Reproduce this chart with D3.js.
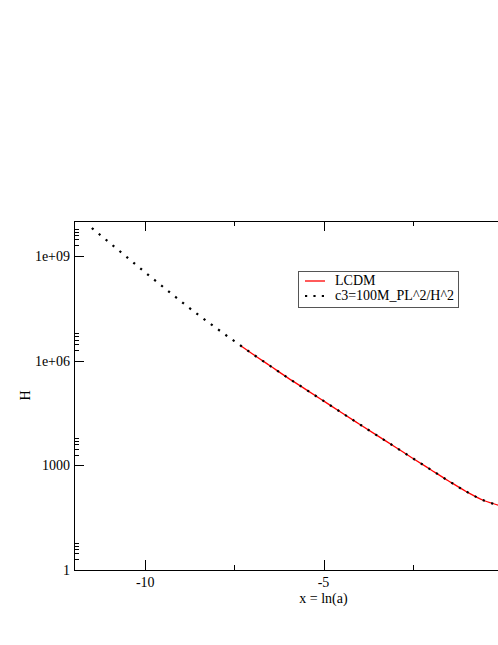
<!DOCTYPE html>
<html>
<head>
<meta charset="utf-8">
<script src="https://cdn.jsdelivr.net/npm/d3@7/dist/d3.min.js"></script>
<style>
    body { margin: 0; background: #fff; }
    svg { display: block; }
    text { font-family: 'Liberation Serif', 'Times New Roman', serif; font-size: 14px; fill: #000; }
</style>
</head>
<body>
<div id="chart"></div>
<script>

// series: x = ln(a), H
const c3X  = [-11.5, -11, -10.5, -10, -9.5, -9, -8.5, -8, -7.5, -7, -6.5, -6,
              -5.5, -5, -4.5, -4, -3.5, -3, -2.5, -2, -1.5, -1, -0.5, 0];
const c3H  = [6.3e9, 2.37e9, 8.9e8, 3.35e8, 1.29e8, 5.0e7, 2.0e7, 8.4e6, 3.6e6, 1.57e6,
              7.1e5, 3.2e5, 1.5e5, 7.0e4, 3.26e4, 1.53e4, 7.2e3, 3.4e3, 1.6e3, 760,
              362, 178, 98, 68];

const lcdmX = [-7.34, -7, -6.5, -6, -5.5, -5, -4.5, -4, -3.5, -3, -2.5, -2,
               -1.5, -1, -0.5, 0];
const lcdmH = [2.74e6, 1.57e6, 7.1e5, 3.2e5, 1.5e5, 7.0e4, 3.26e4, 1.53e4, 7.2e3,
               3.4e3, 1.6e3, 760, 362, 178, 98, 68];

// ticks (the 0 label falls just outside the window in the original)
const xMajor  = [-10, -5, 0];
const xLabels = [-10, -5];
const xMinor  = [-7.5, -2.5];
const yMajor  = [1, 1e3, 1e6, 1e9];
const yLabels = ['1', '1000', '1e+06', '1e+09'];
const yMinorFactors = [2, 3, 4, 5, 6];

const legendNames = ['LCDM', 'c3=100M_PL^2/H^2'];


const width  = 498,
      height = 645;

// plot frame (right edge runs past the window, as in the original)
const plotL = 74, plotR = 573, plotT = 221, plotB = 570;

const x = d3.scaleLinear().domain([-12, 2]).range([plotL, plotR]);
const y = d3.scaleLog().domain([1, 1e10]).range([plotB, plotT]);

const svg = d3.select('#chart')
    .append('svg')
      .attr('width',  width)
      .attr('height', height);

const line = d3.line()
    .x(d => x(d[0]))
    .y(d => y(d[1]))
    .curve(d3.curveMonotoneX);

// red LCDM line
svg.append('path')
    .datum(lcdmX.map((d, i) => [d, lcdmH[i]]))
    .attr('d', line)
    .attr('fill', 'none')
    .attr('stroke', '#ff0000')
    .attr('stroke-width', 1.3);

// black dotted c3 line
svg.append('path')
    .datum(c3X.map((d, i) => [d, c3H[i]]))
    .attr('d', line)
    .attr('fill', 'none')
    .attr('stroke', '#000')
    .attr('stroke-width', 2.2)
    .attr('stroke-dasharray', '2.2 6.8');

// frame
svg.append('rect')
    .attr('x', plotL + 0.5)
    .attr('y', plotT + 0.5)
    .attr('width',  plotR - plotL)
    .attr('height', plotB - plotT)
    .attr('fill', 'none')
    .attr('stroke', '#000')
    .attr('stroke-width', 1);

// x ticks, inward on bottom and top
const xt = svg.append('g').attr('stroke', '#000').attr('stroke-width', 1);
xMajor.forEach(v => {
    const px = Math.round(x(v)) + 0.5;
    xt.append('line').attr('x1', px).attr('x2', px).attr('y1', plotB).attr('y2', plotB - 10);
    xt.append('line').attr('x1', px).attr('x2', px).attr('y1', plotT).attr('y2', plotT + 10);
});
xMinor.forEach(v => {
    const px = Math.round(x(v)) + 0.5;
    xt.append('line').attr('x1', px).attr('x2', px).attr('y1', plotB).attr('y2', plotB - 5);
    xt.append('line').attr('x1', px).attr('x2', px).attr('y1', plotT).attr('y2', plotT + 5);
});

svg.selectAll('.xlabel')
    .data(xLabels)
    .enter()
    .append('text')
      .attr('class', 'xlabel')
      .attr('x', d => x(d))
      .attr('y', plotB + 17)
      .attr('text-anchor', 'middle')
      .text(d => d);

// y ticks
const yt = svg.append('g').attr('stroke', '#000').attr('stroke-width', 1);
yMajor.forEach(v => {
    const py = Math.round(y(v)) + 0.5;
    yt.append('line').attr('x1', plotL).attr('x2', plotL + 10).attr('y1', py).attr('y2', py);
    yMinorFactors.forEach(f => {
        const pm = Math.round(y(v * f)) + 0.5;
        yt.append('line').attr('x1', plotL).attr('x2', plotL + 5).attr('y1', pm).attr('y2', pm);
    });
});

svg.selectAll('.ylabel')
    .data(yMajor)
    .enter()
    .append('text')
      .attr('class', 'ylabel')
      .attr('x', plotL - 4)
      .attr('y', d => y(d) + 5)
      .attr('text-anchor', 'end')
      .text((d, i) => yLabels[i]);

// axis titles
svg.append('text')
    .attr('x', (plotL + plotR) / 2)
    .attr('y', plotB + 33)
    .attr('text-anchor', 'middle')
    .text('x = ln(a)');

svg.append('text')
    .attr('transform', `translate(30, ${(plotT + plotB) / 2}) rotate(-90)`)
    .attr('text-anchor', 'middle')
    .text('H');

// legend
const legend = svg.append('g')
    .attr('transform', 'translate(298, 271)');

legend.append('rect')
    .attr('x', 0.5)
    .attr('y', 0.5)
    .attr('width', 160)
    .attr('height', 36)
    .attr('fill', '#fff')
    .attr('stroke', '#555')
    .attr('stroke-width', 1);

legend.append('line')
    .attr('x1', 7).attr('x2', 27)
    .attr('y1', 10).attr('y2', 10)
    .attr('stroke', '#ff0000')
    .attr('stroke-width', 1.3);

legend.append('line')
    .attr('x1', 7).attr('x2', 29)
    .attr('y1', 25).attr('y2', 25)
    .attr('stroke', '#000')
    .attr('stroke-width', 2.2)
    .attr('stroke-dasharray', '2.2 6.2');

legend.selectAll('.legtext')
    .data(legendNames)
    .enter()
    .append('text')
      .attr('class', 'legtext')
      .attr('x', 37)
      .attr('y', (d, i) => 14 + i * 15)
      .text(d => d);

</script>
</body>
</html>
